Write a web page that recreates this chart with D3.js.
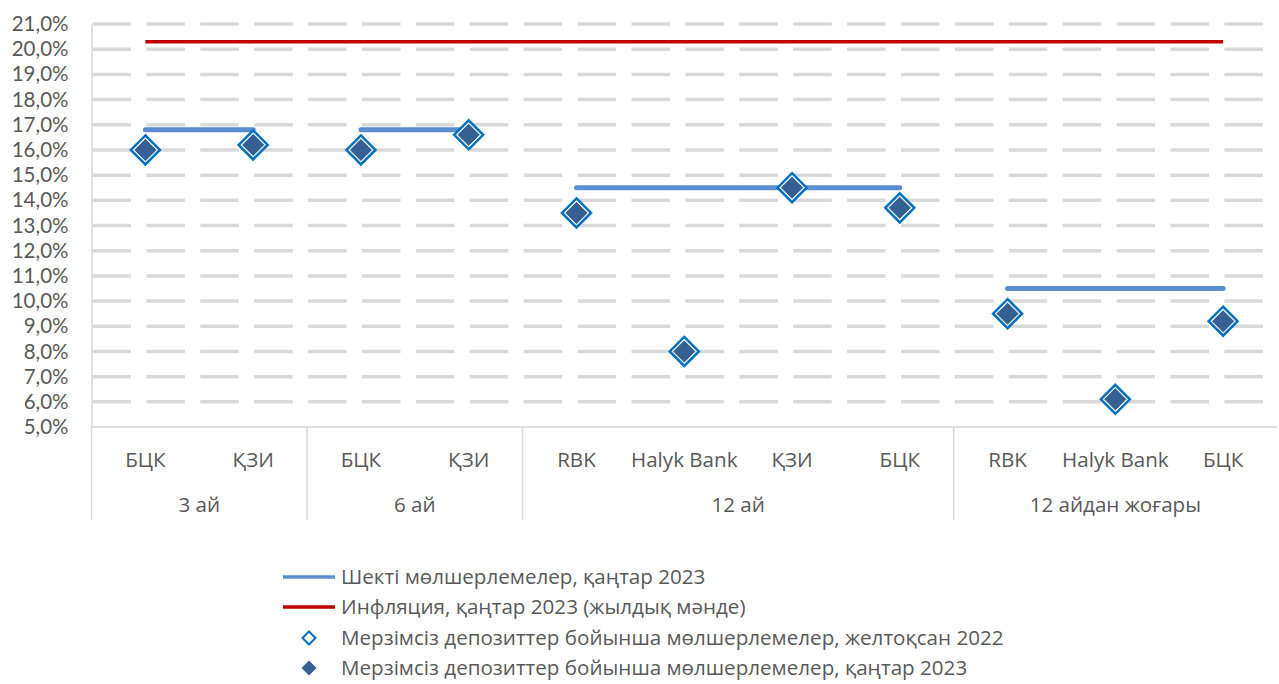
<!DOCTYPE html>
<html><head><meta charset="utf-8">
<script src="https://cdn.jsdelivr.net/npm/d3@7/dist/d3.min.js"></script>
<style>
html,body{margin:0;padding:0;background:#fff;}
svg text{font-family:"Open Sans","Noto Sans",sans-serif;fill:#595959;}
</style></head>
<body><svg id="chart" width="1279" height="684"></svg>
<script>
const categories = ["БЦК","ҚЗИ","БЦК","ҚЗИ","RBK","Halyk Bank","ҚЗИ","БЦК","RBK","Halyk Bank","БЦК"];
const groups = ["3 ай","6 ай","12 ай","12 айдан жоғары"];
const groupIndex = [0,0,1,1,2,2,2,2,3,3,3];
const limitRates = [16.8,16.8,16.8,16.8,14.5,14.5,14.5,14.5,10.5,10.5,10.5];
const inflation = [20.3,20.3,20.3,20.3,20.3,20.3,20.3,20.3,20.3,20.3,20.3];
const ratesDec2022 = [16.0,16.2,16.0,16.6,13.5,8.0,14.5,13.7,9.5,6.1,9.2];
const ratesJan2023 = [16.0,16.2,16.0,16.6,13.5,8.0,14.5,13.7,9.5,6.1,9.2];
const yTicks = [5,6,7,8,9,10,11,12,13,14,15,16,17,18,19,20,21];
const legendLabels = [
  "Шекті мөлшерлемелер, қаңтар 2023",
  "Инфляция, қаңтар 2023 (жылдық мәнде)",
  "Мерзімсіз депозиттер бойынша мөлшерлемелер, желтоқсан 2022",
  "Мерзімсіз депозиттер бойынша мөлшерлемелер, қаңтар 2023"
];

const FS = "20.6px";
const svg = d3.select("#chart");
const L = 91.5, R = 1277, T = 24, B = 427;
const x = d3.scaleBand().domain(d3.range(categories.length)).range([L, R]).padding(0);
const cx = i => x(i) + x.bandwidth()/2;
const y = d3.scaleLinear().domain([5,21]).range([B, T]);
const fmt = v => d3.format(".1f")(v).replace(".", ",") + "%";

// gridlines
svg.append("g").selectAll("line").data(yTicks.filter(t => t > 5)).join("line")
  .attr("x1", L+1).attr("x2", R)
  .attr("y1", d => y(d)).attr("y2", d => y(d))
  .attr("stroke", "#D9D9D9").attr("stroke-width", 3.5)
  .attr("stroke-dasharray", "38.5,15.4");

// y axis
const yAxis = d3.axisLeft(y).tickValues(yTicks).tickFormat(fmt).tickSize(0).tickPadding(23);
const ya = svg.append("g").attr("transform", `translate(${L},0)`).call(yAxis);
ya.select(".domain").attr("stroke", "#D9D9D9").attr("stroke-width", 1.5);
ya.selectAll("text").style("font-size", "20.5px").attr("fill", "#595959")
  .style("font-family", 'Lato,"Open Sans",sans-serif');

// x axis line
svg.append("line").attr("x1", L).attr("x2", R).attr("y1", B).attr("y2", B)
  .attr("stroke", "#D9D9D9").attr("stroke-width", 1.5);

// group separators
const groupBounds = groups.map((g, gi) => {
  const idx = d3.range(categories.length).filter(i => groupIndex[i] === gi);
  return {name: g, start: x(idx[0]), end: x(idx[idx.length-1]) + x.bandwidth()};
});
const seps = [L].concat(groupBounds.slice(0, -1).map(d => d.end));
svg.append("g").selectAll("line").data(seps).join("line")
  .attr("x1", d => d).attr("x2", d => d).attr("y1", B).attr("y2", 520)
  .attr("stroke", "#D9D9D9").attr("stroke-width", 1.5);

// category labels
svg.append("g").selectAll("text").data(categories).join("text")
  .attr("x", (d, i) => cx(i)).attr("y", 467).attr("text-anchor", "middle")
  .style("font-size", FS).text(d => d);
svg.append("g").selectAll("text").data(groupBounds).join("text")
  .attr("x", d => (d.start + d.end)/2).attr("y", 512).attr("text-anchor", "middle")
  .style("font-size", FS).text(d => d.name);

// limit lines per group
const line = d3.line().x(d => cx(d.i)).y(d => y(d.v));
groups.forEach((g, gi) => {
  const pts = d3.range(categories.length).filter(i => groupIndex[i] === gi).map(i => ({i, v: limitRates[i]}));
  svg.append("path").attr("d", line(pts)).attr("fill", "none")
    .attr("stroke", "#5B8DD0").attr("stroke-width", 5).attr("stroke-linecap", "round");
});

// inflation
svg.append("path").attr("d", line(inflation.map((v, i) => ({i, v}))))
  .attr("fill", "none").attr("stroke", "#C00000").attr("stroke-width", 3.5);

// markers
const diamond = r => `M0,${-r}L${r},0L0,${r}L${-r},0Z`;
svg.append("g").selectAll("path").data(ratesDec2022).join("path")
  .attr("transform", (d, i) => `translate(${cx(i)},${y(d)})`)
  .attr("d", diamond(14.5)).attr("fill", "#fff").attr("stroke", "#0070C0").attr("stroke-width", 2.5);
svg.append("g").selectAll("path").data(ratesJan2023).join("path")
  .attr("transform", (d, i) => `translate(${cx(i)},${y(d)})`)
  .attr("d", diamond(11.5)).attr("fill", "#365F94").attr("stroke", "#fff").attr("stroke-width", 0.8);

// legend
const lg = svg.append("g");
const ly = [577, 607, 638, 668];
lg.append("line").attr("x1", 283).attr("x2", 335).attr("y1", ly[0]).attr("y2", ly[0])
  .attr("stroke", "#5B8DD0").attr("stroke-width", 3.5);
lg.append("line").attr("x1", 283).attr("x2", 335).attr("y1", ly[1]).attr("y2", ly[1])
  .attr("stroke", "#C00000").attr("stroke-width", 3.5);
lg.append("path").attr("transform", `translate(309,${ly[2]})`).attr("d", diamond(6.5))
  .attr("fill", "#fff").attr("stroke", "#0070C0").attr("stroke-width", 2);
lg.append("path").attr("transform", `translate(309,${ly[3]})`).attr("d", diamond(7.5))
  .attr("fill", "#365F94");
lg.selectAll("text").data(legendLabels).join("text")
  .attr("x", 341).attr("y", (d, i) => ly[i]).attr("dy", "0.36em")
  .style("font-size", FS).text(d => d);
</script></body></html>
